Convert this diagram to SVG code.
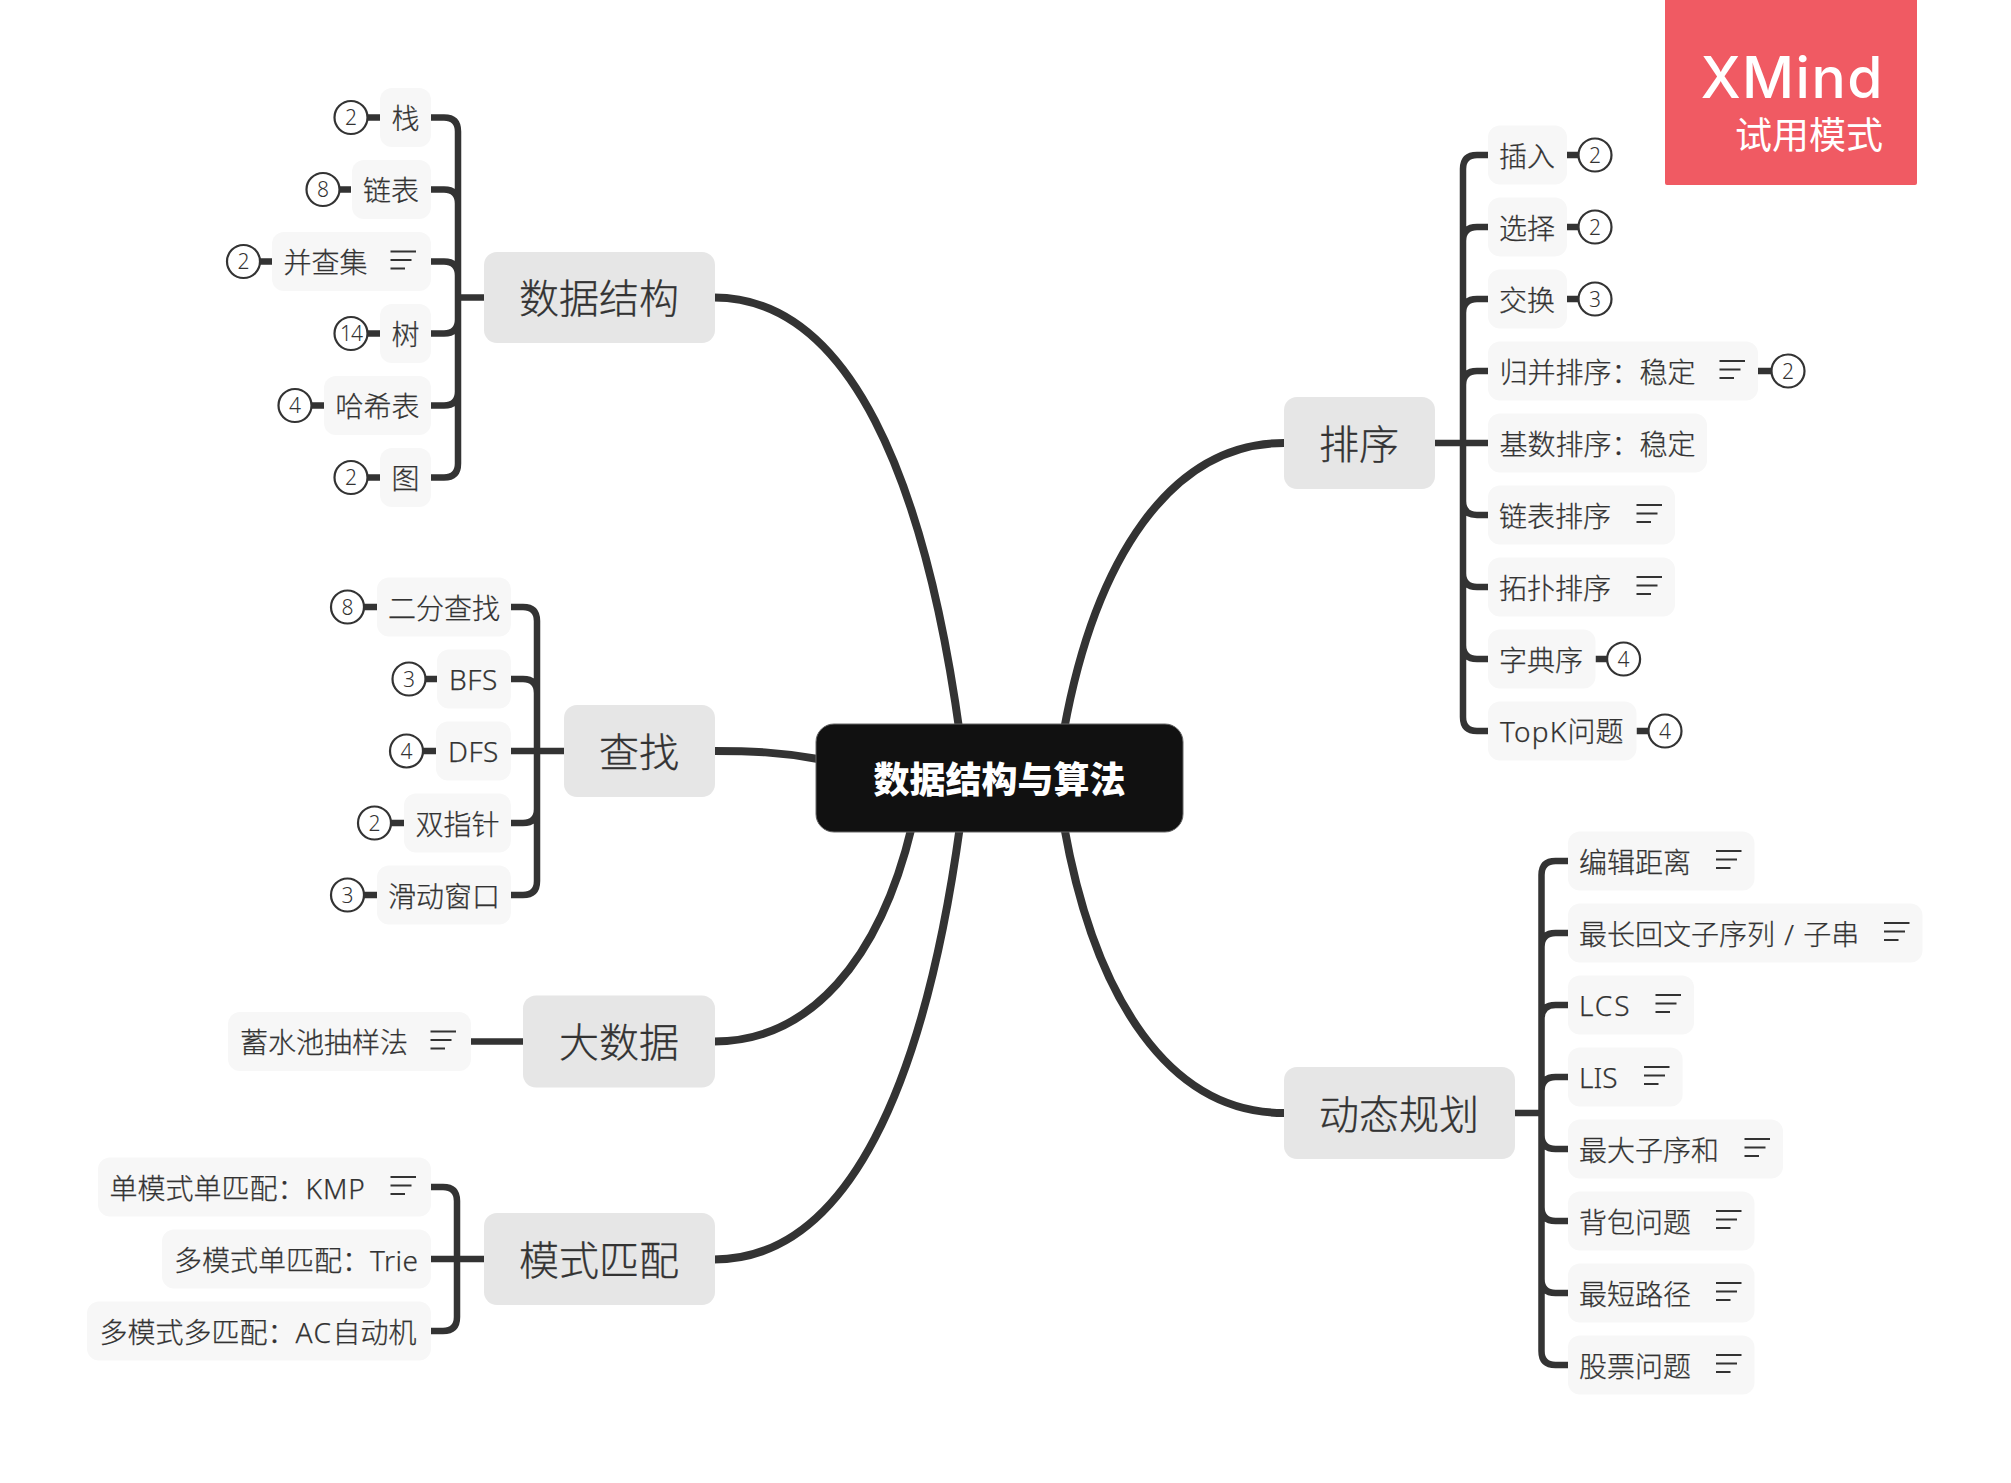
<svg xmlns="http://www.w3.org/2000/svg" width="2011" height="1483" viewBox="0 0 2011 1483">
<style>
text{font-family:"Noto Sans","Noto Sans CJK SC",sans-serif;fill:#333}
.s{font-size:28px;font-weight:300;stroke:#333;stroke-width:.25px;transform:translate(-1px,1px)}
g[id^=a] .s,g[id^=b] .s,g[id^=c] .s,g[id^=d] .s{transform:translate(0,1px)}
.t{font-size:40px;font-weight:300;stroke:#333;stroke-width:.3px;transform:translate(0,1px)}
.c{font-size:36px;font-weight:900;fill:#fff;text-anchor:middle;transform:translate(0,2px)}
.n{fill:#f7f7f7}.p{fill:#e6e6e6}
circle{fill:#fff;stroke:#333;stroke-width:2.200}
.d{font-size:21px;font-weight:300;text-anchor:middle}
.l{fill:none;stroke:#333;stroke-width:6.500}
.r{fill:none;stroke:#333;stroke-width:8}
.i{fill:none;stroke:#333;stroke-width:2.200}
</style>
<defs><path id="note" class="i" d="M-1 -10H24.500M-1 -1.500H20M-1 7H13.500"/></defs>
<rect width="2011" height="1483" fill="#fff"/>
<g id="connectors">
<path class="r" d="M714 297.500C850 297.500 925 480 960 735"/>
<path class="r" d="M714 751C750 751 780 752 818 759"/>
<path class="r" d="M714 1041.500C810 1041.500 880 960 912 826"/>
<path class="r" d="M714 1259.500C850 1259.500 925 1080 960 826"/>
<path class="r" d="M1284 443C1170 443 1095 560 1064 730"/>
<path class="r" d="M1284 1113C1170 1113 1095 1000 1064 826"/>
<path class="l" d="M484 297.500H458M431 117.500H444Q458 117.500 458 131.500V463.500Q458 477.500 444 477.500H431M431 189.500H444Q458 189.500 458 203.500M431 261.500H444Q458 261.500 458 275.500M431 333.500H444Q458 333.500 458 319.500M431 405.500H444Q458 405.500 458 391.500"/>
<path class="l" d="M564 751H511M511 607H523Q537 607 537 621V881Q537 895 523 895H511M511 679H523Q537 679 537 693M511 823H523Q537 823 537 809"/>
<path class="l" d="M523 1041.500H471"/>
<path class="l" d="M484 1259H431M431 1187H443Q457 1187 457 1201V1317Q457 1331 443 1331H431"/>
<path class="l" d="M1435 443H1488M1488 155H1477Q1463 155 1463 169V717Q1463 731 1477 731H1488M1488 227H1477Q1463 227 1463 241M1488 299H1477Q1463 299 1463 313M1488 371H1477Q1463 371 1463 385M1488 515H1477Q1463 515 1463 501M1488 587H1477Q1463 587 1463 573M1488 659H1477Q1463 659 1463 645"/>
<path class="l" d="M1515 1113H1541.500M1568 861H1555.500Q1541.500 861 1541.500 875V1351Q1541.500 1365 1555.500 1365H1568M1568 933H1555.500Q1541.500 933 1541.500 947M1568 1005H1555.500Q1541.500 1005 1541.500 1019M1568 1077H1555.500Q1541.500 1077 1541.500 1091M1568 1149H1555.500Q1541.500 1149 1541.500 1135M1568 1221H1555.500Q1541.500 1221 1541.500 1207M1568 1293H1555.500Q1541.500 1293 1541.500 1279"/>
<path class="l" d="M368 117.500H380M339 189.500H351M260 261.500H272M368 333.500H380M312 405.500H324M368 477.500H380M364 607H377M426 679H437M423 751H436M391 823H404M364 895H377"/>
<path class="l" d="M1567 155H1578M1567 227H1578M1567 299H1578M1758 371H1771M1595.500 659H1607M1636.500 731H1648"/>
</g>
<g id="root"><rect x="816" y="724" width="367" height="108" rx="18" fill="#111" stroke="#666" stroke-width="1"/><text class="c" x="999.500" y="791">数据结构与算法</text></g>
<g id="t1"><rect class="p" x="484" y="252" width="231" height="91" rx="13"/><text class="t" x="519" y="312">数据结构</text></g>
<g id="t2"><rect class="p" x="564" y="705" width="151" height="92" rx="13"/><text class="t" x="599" y="766">查找</text></g>
<g id="t3"><rect class="p" x="523" y="995.500" width="192" height="92" rx="13"/><text class="t" x="559" y="1056">大数据</text></g>
<g id="t4"><rect class="p" x="484" y="1213" width="231" height="92" rx="13"/><text class="t" x="519" y="1274">模式匹配</text></g>
<g id="t5"><rect class="p" x="1284" y="397" width="151" height="92" rx="13"/><text class="t" x="1319" y="458">排序</text></g>
<g id="t6"><rect class="p" x="1284" y="1067" width="231" height="92" rx="13"/><text class="t" x="1319" y="1128">动态规划</text></g>

<g id="a1"><rect class="n" x="380" y="88" width="51" height="59" rx="12"/><text class="s" x="391.500" y="128">栈</text><circle cx="351" cy="117.500" r="16.500"/><text class="d" x="351" y="125">2</text></g>
<g id="a2"><rect class="n" x="352" y="160" width="79" height="59" rx="12"/><text class="s" x="363" y="200">链表</text><circle cx="323" cy="189.500" r="16.500"/><text class="d" x="323" y="197">8</text></g>
<g id="a3"><rect class="n" x="272" y="232" width="159" height="59" rx="12"/><text class="s" x="283.500" y="272">并查集</text><use href="#note" x="391.500" y="261.500"/><circle cx="243.500" cy="261.500" r="16.500"/><text class="d" x="243.500" y="269">2</text></g>
<g id="a4"><rect class="n" x="380" y="304" width="51" height="59" rx="12"/><text class="s" x="391.500" y="344">树</text><circle cx="351" cy="333.500" r="16.500"/><text class="d" x="351" y="341" style="letter-spacing:-1px">14</text></g>
<g id="a5"><rect class="n" x="324" y="376" width="107" height="59" rx="12"/><text class="s" x="335.500" y="416">哈希表</text><circle cx="295" cy="405.500" r="16.500"/><text class="d" x="295" y="413">4</text></g>
<g id="a6"><rect class="n" x="380" y="448" width="51" height="59" rx="12"/><text class="s" x="391.500" y="488">图</text><circle cx="351" cy="477.500" r="16.500"/><text class="d" x="351" y="485">2</text></g>

<g id="b1"><rect class="n" x="377" y="577.500" width="134" height="59" rx="12"/><text class="s" x="388" y="617.500">二分查找</text><circle cx="347.500" cy="607" r="16.500"/><text class="d" x="347.500" y="614.500">8</text></g>
<g id="b2"><rect class="n" x="437" y="649.500" width="74" height="59" rx="12"/><text class="s" x="449" y="688.500" style="letter-spacing:.6px">BFS</text><circle cx="409" cy="679" r="16.500"/><text class="d" x="409" y="686.500">3</text></g>
<g id="b3"><rect class="n" x="436" y="721.500" width="75" height="59" rx="12"/><text class="s" x="448" y="760.500" style="letter-spacing:.5px">DFS</text><circle cx="406.500" cy="751" r="16.500"/><text class="d" x="406.500" y="758.500">4</text></g>
<g id="b4"><rect class="n" x="404" y="793.500" width="107" height="59" rx="12"/><text class="s" x="415.500" y="833.500">双指针</text><circle cx="374.500" cy="823" r="16.500"/><text class="d" x="374.500" y="830.500">2</text></g>
<g id="b5"><rect class="n" x="377" y="865.500" width="134" height="59" rx="12"/><text class="s" x="388" y="905.500">滑动窗口</text><circle cx="347.500" cy="895" r="16.500"/><text class="d" x="347.500" y="902.500">3</text></g>

<g id="c1"><rect class="n" x="228" y="1012" width="243" height="59" rx="12"/><text class="s" x="240" y="1052">蓄水池抽样法</text><use href="#note" x="431.500" y="1041.500"/></g>

<g id="d1"><rect class="n" x="98" y="1157.500" width="333" height="59" rx="12"/><text class="s" x="109.500" y="1197.500">单模式单匹配：<tspan style="letter-spacing:.9px">KMP</tspan></text><use href="#note" x="391.500" y="1187"/></g>
<g id="d2"><rect class="n" x="162" y="1229.500" width="269" height="59" rx="12"/><text class="s" x="174" y="1269.500">多模式单匹配：<tspan style="letter-spacing:.5px">Trie</tspan></text></g>
<g id="d3"><rect class="n" x="87" y="1301.500" width="344" height="59" rx="12"/><text class="s" x="99.500" y="1341.500">多模式多匹配：<tspan style="letter-spacing:1.500px">AC</tspan>自动机</text></g>

<g id="e1"><rect class="n" x="1488" y="125.500" width="79" height="59" rx="12"/><text class="s" x="1500" y="165.500">插入</text><circle cx="1595" cy="155" r="16.500"/><text class="d" x="1595" y="162.500">2</text></g>
<g id="e2"><rect class="n" x="1488" y="197.500" width="79" height="59" rx="12"/><text class="s" x="1500" y="237.500">选择</text><circle cx="1595" cy="227" r="16.500"/><text class="d" x="1595" y="234.500">2</text></g>
<g id="e3"><rect class="n" x="1488" y="269.500" width="79" height="59" rx="12"/><text class="s" x="1500" y="309.500">交换</text><circle cx="1595" cy="299" r="16.500"/><text class="d" x="1595" y="306.500">3</text></g>
<g id="e4"><rect class="n" x="1488" y="341.500" width="270" height="59" rx="12"/><text class="s" x="1500.500" y="381.500">归并排序：稳定</text><use href="#note" x="1720.500" y="371"/><circle cx="1788" cy="371" r="16.500"/><text class="d" x="1788" y="378.500">2</text></g>
<g id="e5"><rect class="n" x="1488" y="413.500" width="219" height="59" rx="12"/><text class="s" x="1500.500" y="453.500">基数排序：稳定</text></g>
<g id="e6"><rect class="n" x="1488" y="485.500" width="187" height="59" rx="12"/><text class="s" x="1500" y="525.500">链表排序</text><use href="#note" x="1637.500" y="515"/></g>
<g id="e7"><rect class="n" x="1488" y="557.500" width="187" height="59" rx="12"/><text class="s" x="1500" y="597.500">拓扑排序</text><use href="#note" x="1637.500" y="587"/></g>
<g id="e8"><rect class="n" x="1488" y="629.500" width="107.500" height="59" rx="12"/><text class="s" x="1500" y="669.500">字典序</text><circle cx="1623.600" cy="659" r="16.500"/><text class="d" x="1623.600" y="666.500">4</text></g>
<g id="e9"><rect class="n" x="1488" y="701.500" width="148.500" height="59" rx="12"/><text class="s" x="1501" y="740.500"><tspan style="letter-spacing:1.200px">TopK</tspan>问题</text><circle cx="1665" cy="731" r="16.500"/><text class="d" x="1665" y="738.500">4</text></g>

<g id="f1"><rect class="n" x="1568" y="831.500" width="186.500" height="59" rx="12"/><text class="s" x="1580" y="871.500">编辑距离</text><use href="#note" x="1717" y="861"/></g>
<g id="f2"><rect class="n" x="1568" y="903.500" width="354.500" height="59" rx="12"/><text class="s" x="1580" y="943.500" style="word-spacing:2px">最长回文子序列 / 子串</text><use href="#note" x="1885" y="933"/></g>
<g id="f3"><rect class="n" x="1568" y="975.500" width="126" height="59" rx="12"/><text class="s" x="1580" y="1014.500" style="letter-spacing:2px">LCS</text><use href="#note" x="1656.500" y="1005"/></g>
<g id="f4"><rect class="n" x="1568" y="1047.500" width="114.600" height="59" rx="12"/><text class="s" x="1580" y="1086.500">LIS</text><use href="#note" x="1645" y="1077"/></g>
<g id="f5"><rect class="n" x="1568" y="1119.500" width="215" height="59" rx="12"/><text class="s" x="1580" y="1159.500">最大子序和</text><use href="#note" x="1745.500" y="1149"/></g>
<g id="f6"><rect class="n" x="1568" y="1191.500" width="186.500" height="59" rx="12"/><text class="s" x="1580" y="1231.500">背包问题</text><use href="#note" x="1717" y="1221"/></g>
<g id="f7"><rect class="n" x="1568" y="1263.500" width="186.500" height="59" rx="12"/><text class="s" x="1580" y="1303.500">最短路径</text><use href="#note" x="1717" y="1293"/></g>
<g id="f8"><rect class="n" x="1568" y="1335.500" width="186.500" height="59" rx="12"/><text class="s" x="1580" y="1375.500">股票问题</text><use href="#note" x="1717" y="1365"/></g>

<g id="badge"><rect x="1665" y="-2" width="252" height="187" rx="2" fill="#f05a63"/>
<text x="1884" y="98" text-anchor="end" font-size="57" font-weight="500" letter-spacing="1.500" style="fill:#fff;font-family:Inter,sans-serif">XMind</text>
<text x="1883" y="149" text-anchor="end" font-size="37" style="fill:#fff">试用模式</text></g>
</svg>
